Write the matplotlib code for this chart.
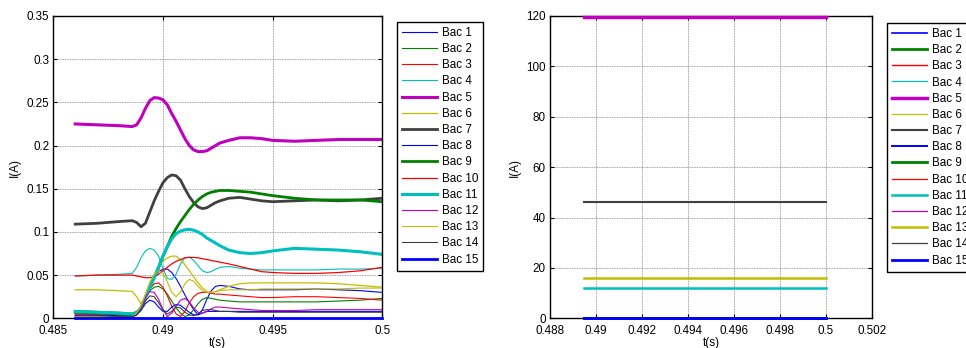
import matplotlib
matplotlib.use('Agg')
import matplotlib.pyplot as plt
from matplotlib.ticker import FormatStrFormatter

plt.rcParams['font.family'] = ['Liberation Sans', 'DejaVu Sans']
plt.rcParams['font.size'] = 8.4

# time samples for the left plot (s)
t_left = [0.486, 0.487, 0.488,
          0.4886, 0.4888, 0.489, 0.4892, 0.4894, 0.4896, 0.4898, 0.49,
          0.4902, 0.4904, 0.4906, 0.4908, 0.491, 0.4912, 0.4914, 0.4916,
          0.4918, 0.492, 0.4922, 0.4924, 0.4926,
          0.493, 0.4935, 0.494, 0.4945, 0.495, 0.496, 0.497, 0.498, 0.499, 0.5]

# currents (A), left plot
bac1 = [0.004, 0.004, 0.003, 0.003, 0.006, 0.013, 0.026, 0.039, 0.048, 0.054, 0.057,
        0.057, 0.053, 0.046, 0.037, 0.027, 0.018, 0.010, 0.004, 0.010, 0.022, 0.032,
        0.037, 0.038, 0.037, 0.034, 0.033, 0.033, 0.033, 0.033, 0.034, 0.033, 0.032, 0.030]
bac2 = [0.009, 0.008, 0.007, 0.006, 0.008, 0.013, 0.024, 0.032, 0.036, 0.037, 0.034,
        0.028, 0.020, 0.012, 0.006, 0.002, 0.004, 0.010, 0.017, 0.022, 0.024, 0.023,
        0.022, 0.021, 0.020, 0.019, 0.019, 0.019, 0.019, 0.019, 0.019, 0.020, 0.021, 0.023]
bac3 = [0.005, 0.005, 0.004, 0.004, 0.006, 0.012, 0.024, 0.034, 0.040, 0.041, 0.036,
        0.026, 0.014, 0.005, 0.002, 0.008, 0.018, 0.025, 0.029, 0.030, 0.030, 0.029,
        0.028, 0.028, 0.027, 0.026, 0.025, 0.024, 0.024, 0.025, 0.025, 0.024, 0.023, 0.021]
bac4 = [0.049, 0.050, 0.051, 0.052, 0.059, 0.070, 0.078, 0.081, 0.079, 0.072, 0.058,
        0.046, 0.045, 0.051, 0.063, 0.070, 0.071, 0.067, 0.061, 0.055, 0.053, 0.054,
        0.057, 0.059, 0.060, 0.058, 0.057, 0.056, 0.056, 0.056, 0.056, 0.057, 0.057, 0.058]
bac5 = [0.225, 0.224, 0.223, 0.222, 0.224, 0.232, 0.243, 0.252, 0.2555, 0.255, 0.253,
        0.247, 0.237, 0.228, 0.218, 0.208, 0.200, 0.195, 0.193, 0.193, 0.194, 0.197,
        0.200, 0.203, 0.206, 0.209, 0.209, 0.208, 0.206, 0.205, 0.206, 0.207, 0.207, 0.207]
bac6 = [0.033, 0.033, 0.032, 0.031, 0.025, 0.017, 0.025, 0.038, 0.050, 0.060, 0.066,
        0.070, 0.072, 0.072, 0.068, 0.062, 0.055, 0.048, 0.041, 0.035, 0.031, 0.030,
        0.031, 0.033, 0.037, 0.040, 0.041, 0.041, 0.041, 0.041, 0.041, 0.040, 0.038, 0.036]
bac7 = [0.109, 0.110, 0.112, 0.113, 0.111, 0.106, 0.110, 0.123, 0.136, 0.147, 0.157,
        0.163, 0.166, 0.165, 0.160, 0.150, 0.141, 0.134, 0.129, 0.127, 0.128, 0.131,
        0.134, 0.136, 0.139, 0.140, 0.138, 0.136, 0.135, 0.136, 0.137, 0.136, 0.137, 0.139]
bac8 = [0.003, 0.003, 0.002, 0.002, 0.004, 0.009, 0.017, 0.021, 0.019, 0.013, 0.008,
        0.008, 0.013, 0.016, 0.015, 0.011, 0.007, 0.004, 0.004, 0.006, 0.008, 0.008,
        0.008, 0.008, 0.008, 0.008, 0.008, 0.008, 0.008, 0.008, 0.008, 0.008, 0.008, 0.008]
bac9 = [0.007, 0.006, 0.005, 0.004, 0.006, 0.012, 0.024, 0.036, 0.047, 0.059, 0.072,
        0.083, 0.095, 0.104, 0.112, 0.119, 0.126, 0.132, 0.137, 0.141, 0.144, 0.146,
        0.147, 0.148, 0.148, 0.147, 0.146, 0.144, 0.142, 0.139, 0.137, 0.137, 0.137, 0.135]
bac10 = [0.049, 0.050, 0.050, 0.050, 0.049, 0.048, 0.047, 0.047, 0.048, 0.051, 0.055,
         0.059, 0.063, 0.066, 0.068, 0.070, 0.0705, 0.0705, 0.070, 0.069, 0.068, 0.067,
         0.066, 0.065, 0.063, 0.060, 0.057, 0.054, 0.053, 0.052, 0.052, 0.053, 0.055, 0.059]
bac11 = [0.008, 0.007, 0.006, 0.005, 0.006, 0.012, 0.024, 0.036, 0.047, 0.059, 0.072,
         0.083, 0.092, 0.098, 0.101, 0.1025, 0.103, 0.102, 0.100, 0.097, 0.093, 0.090,
         0.087, 0.084, 0.079, 0.076, 0.075, 0.076, 0.078, 0.081, 0.080, 0.079, 0.077, 0.074]
bac12 = [0.002, 0.002, 0.001, 0.001, 0.004, 0.012, 0.024, 0.031, 0.030, 0.022, 0.010,
         0.002, 0.006, 0.014, 0.021, 0.023, 0.019, 0.012, 0.007, 0.006, 0.008, 0.011,
         0.013, 0.013, 0.012, 0.011, 0.010, 0.009, 0.009, 0.009, 0.010, 0.010, 0.010, 0.010]
bac13 = [0.002, 0.002, 0.002, 0.002, 0.006, 0.014, 0.028, 0.042, 0.051, 0.055, 0.052,
         0.042, 0.030, 0.025, 0.030, 0.040, 0.045, 0.043, 0.037, 0.032, 0.030, 0.030,
         0.031, 0.032, 0.033, 0.033, 0.033, 0.034, 0.034, 0.034, 0.034, 0.034, 0.035, 0.035]
bac14 = [0.003, 0.003, 0.002, 0.002, 0.004, 0.010, 0.020, 0.026, 0.025, 0.018, 0.010,
         0.005, 0.008, 0.013, 0.012, 0.007, 0.004, 0.003, 0.005, 0.009, 0.010, 0.010,
         0.009, 0.008, 0.008, 0.007, 0.007, 0.007, 0.007, 0.007, 0.007, 0.007, 0.007, 0.007]
bac15 = [0.0] * len(t_left)

# right plot: constant currents (A) between two instants
t_right = [0.4895, 0.5]
right_levels = [0, 0, 0, 0, 119.5, 0, 46, 0, 0, 0, 12, 0, 16, 0, 0]

labels = ['Bac %d' % i for i in range(1, 16)]
left_series = [bac1, bac2, bac3, bac4, bac5, bac6, bac7, bac8, bac9, bac10,
               bac11, bac12, bac13, bac14, bac15]

# styling (MATLAB-like colour order)
base = [(0, 0, 1), (0, 0.5, 0), (1, 0, 0), (0, 0.75, 0.75),
        (0.75, 0, 0.75), (0.75, 0.75, 0), (0.25, 0.25, 0.25)]
colors = [base[i % 7] for i in range(15)]
lw_left = [0.8, 0.8, 0.8, 0.8, 2.2, 0.9, 2.0, 0.8, 2.0, 0.9, 2.2, 0.8, 0.8, 0.8, 2.0]
lw_right = [1.2, 2.0, 1.0, 0.9, 2.5, 0.9, 1.5, 1.4, 2.0, 0.9, 1.8, 0.9, 1.8, 0.9, 2.0]

fig = plt.figure(figsize=(9.66, 3.48), dpi=100)
ax1 = fig.add_axes([53.3 / 966, 29.7 / 348, 329 / 966, 302.3 / 348])
ax2 = fig.add_axes([550 / 966, 29.7 / 348, 322 / 966, 302.3 / 348])

for i in range(15):
    flat = i == 14
    ax1.plot(t_left, left_series[i], color=colors[i], lw=lw_left[i], label=labels[i],
             clip_on=not flat, zorder=3 if flat else 2)
    ax2.plot(t_right, [right_levels[i]] * 2, color=colors[i], lw=lw_right[i],
             label=labels[i], clip_on=False, zorder=3)

ax1.set_xlim(0.485, 0.5)
ax1.set_ylim(0, 0.35)
ax1.set_xticks([0.485, 0.49, 0.495, 0.5])
ax1.set_yticks([0, 0.05, 0.1, 0.15, 0.2, 0.25, 0.3, 0.35])

ax2.set_xlim(0.488, 0.502)
ax2.set_ylim(0, 120)
ax2.set_xticks([0.488, 0.49, 0.492, 0.494, 0.496, 0.498, 0.5, 0.502])
ax2.set_yticks([0, 20, 40, 60, 80, 100, 120])

for ax in (ax1, ax2):
    ax.xaxis.set_major_formatter(FormatStrFormatter('%g'))
    ax.yaxis.set_major_formatter(FormatStrFormatter('%g'))
    ax.grid(True, color='0.5', linestyle=(0, (1, 1)), linewidth=0.6)
    ax.tick_params(direction='in', top=True, right=True, length=3, width=0.8, pad=3)
    ax.tick_params(axis='x', pad=4.5)
    for s in ax.spines.values():
        s.set_linewidth(1.0)
    ax.set_xlabel('t(s)', labelpad=0)
    ax.set_ylabel('I(A)', labelpad=4)

leg_kw = dict(loc='upper left', bbox_transform=fig.transFigure, fontsize=8.4,
              fancybox=False, edgecolor='black', framealpha=1,
              handlelength=3.0, handletextpad=0.43, borderpad=0.42,
              labelspacing=0.36, borderaxespad=0)
l1 = ax1.legend(bbox_to_anchor=(397 / 966, 1 - 22 / 348), **leg_kw)
l2 = ax2.legend(bbox_to_anchor=(887 / 966, 1 - 23 / 348), **leg_kw)
for lg in (l1, l2):
    lg.get_frame().set_linewidth(1.0)

fig.savefig('out.png', dpi=100)
